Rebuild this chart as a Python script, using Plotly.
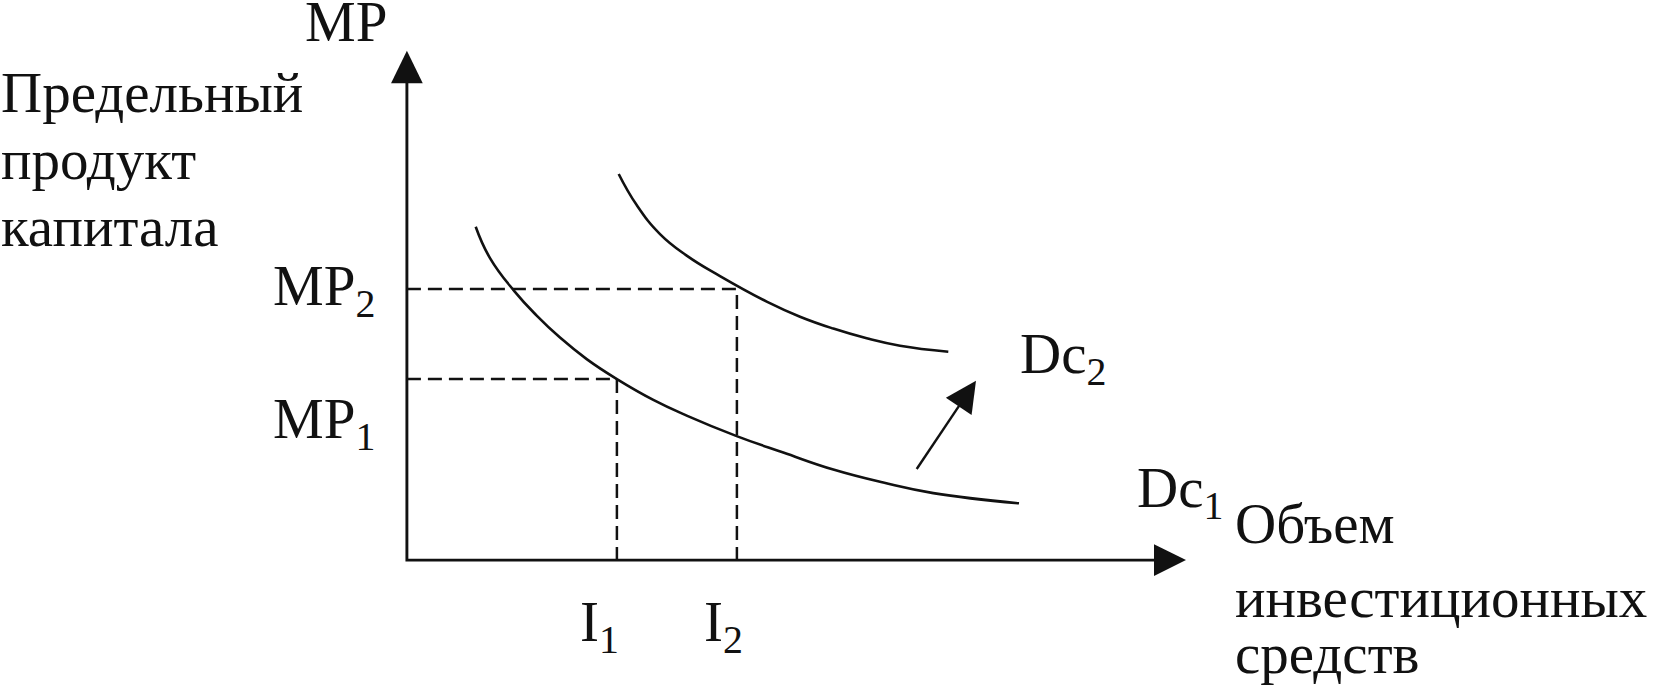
import plotly.graph_objects as go
import numpy as np

# ---- data (chart units: origin at axes intersection) ----
dc1_x = [6.88, 8.31, 10.74, 12.98, 15.31, 17.98, 21.00, 24.64, 27.98, 32.98, 37.64, 42.64, 47.64, 52.64, 61.21]
dc1_y = [33.34, 30.20, 26.90, 24.45, 22.25, 20.10, 18.10, 16.02, 14.45, 12.40, 10.75, 9.05, 7.75, 6.70, 5.68]
dc2_x = [21.18, 22.98, 25.31, 27.98, 31.31, 35.98, 39.31, 42.64, 45.98, 49.31, 54.14]
dc2_y = [38.61, 35.50, 32.60, 30.45, 28.40, 25.85, 24.34, 23.15, 22.18, 21.44, 20.84]
invest = [21.0, 33.0]            # I1, I2
mp = [18.1, 27.1]                # MP1, MP2
x_axis_max = 77.91
y_axis_max = 50.94
shift_from = [50.98, 9.11]
shift_to = [56.91, 17.94]

INK = "#111111"
FONT = dict(family="Liberation Serif, Times New Roman, serif", size=57, color=INK)

fig = go.Figure()

def head(tip, direction, L, W):
    d = np.array(direction, float)
    d = d / np.linalg.norm(d)
    p = np.array([-d[1], d[0]])
    t = np.array(tip, float)
    b = t - L * d
    c1 = b + W / 2 * p
    c2 = b - W / 2 * p
    fig.add_trace(go.Scatter(x=[t[0], c1[0], c2[0], t[0]], y=[t[1], c1[1], c2[1], t[1]],
                             mode="lines", fill="toself", fillcolor=INK,
                             line=dict(width=0, color=INK), hoverinfo="skip", showlegend=False))

# axes
fig.add_trace(go.Scatter(x=[0, 0, x_axis_max - 2.8], y=[y_axis_max - 2.8, 0, 0], mode="lines",
                         line=dict(color=INK, width=2.9), hoverinfo="skip", showlegend=False))
head([0, y_axis_max], [0, 1], 3.26, 3.17)
head([x_axis_max, 0], [1, 0], 3.2, 3.17)

# dashed guides
for i in range(2):
    fig.add_trace(go.Scatter(x=[0, invest[i], invest[i]], y=[mp[i], mp[i], 0], mode="lines",
                             line=dict(color=INK, width=2.5, dash="14px,7px"),
                             hoverinfo="skip", showlegend=False))

# demand curves
for cx, cy in ((dc1_x, dc1_y), (dc2_x, dc2_y)):
    fig.add_trace(go.Scatter(x=cx, y=cy, mode="lines",
                             line=dict(color=INK, width=2.6, shape="spline", smoothing=1.3),
                             hoverinfo="skip", showlegend=False))

# shift arrow
dvec = np.array(shift_to) - np.array(shift_from)
dunit = dvec / np.linalg.norm(dvec)
line_end = np.array(shift_to) - 2.5 * dunit
fig.add_trace(go.Scatter(x=[shift_from[0], line_end[0]], y=[shift_from[1], line_end[1]], mode="lines",
                         line=dict(color=INK, width=2.4), hoverinfo="skip", showlegend=False))
head(shift_to, dvec, 3.1, 3.1)

# ---- labels (positions in px converted to chart units) ----
def px(xp):
    return (xp - 406.9) / 10.0

def py(yp):
    return (560.1 - yp) / 10.0

def label(text, xp, yc, xanchor):
    fig.add_annotation(x=px(xp), y=py(yc), text=text, showarrow=False, xanchor=xanchor,
                       yanchor="middle", font=FONT, borderpad=0)

label("MP", 388, 21, "right")
label("Предельный", 0, 92.5, "left")
label("продукт", 0, 159, "left")
label("капитала", 0, 226, "left")
label("MP<sub>2</sub>", 376, 290, "right")
label("MP<sub>1</sub>", 376, 423, "right")
label("I<sub>1</sub>", 579, 626, "left")
label("I<sub>2</sub>", 703, 626, "left")
label("Dc<sub>2</sub>", 1019, 358, "left")
label("Dc<sub>1</sub>", 1136, 492, "left")
label("Объем", 1234, 523.5, "left")
label("инвестиционных", 1234, 597, "left")
label("средств", 1234, 653.5, "left")

fig.update_layout(
    width=1657, height=686,
    margin=dict(l=0, r=0, t=0, b=0),
    paper_bgcolor="white", plot_bgcolor="white",
    xaxis=dict(visible=False, range=[px(0), px(1657)], fixedrange=True),
    yaxis=dict(visible=False, range=[py(686), py(0)], fixedrange=True),
    showlegend=False,
)

fig.write_html("out.html", config={"displayModeBar": False},
               post_script="document.body.style.margin='0px';document.body.style.overflow='hidden';")
